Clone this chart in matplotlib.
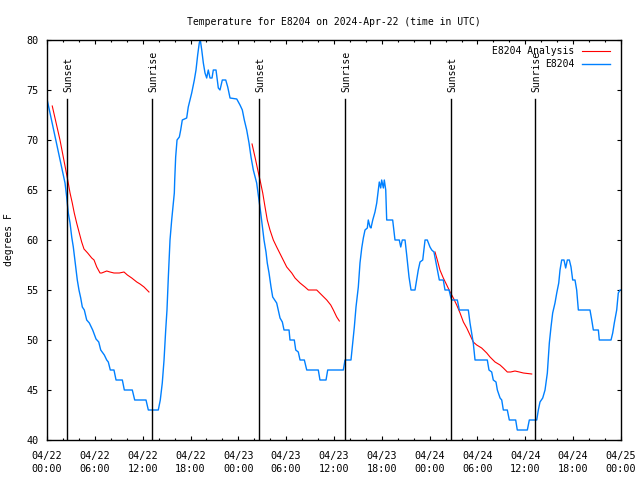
#grafico de temperatura E8204 (estilo gnuplot)
import matplotlib
matplotlib.use("Agg")
import matplotlib.pyplot as plt

# horas desde 2024-04-22 00:00 UTC
obs_h = [0.0, 2.26, 2.47, 2.67, 2.89, 3.10, 3.30, 3.42, 3.60, 3.80, 4.01, 4.23, 4.43, 4.68, 4.98,
         5.31, 5.73, 6.15, 6.49, 6.74, 7.19, 7.49, 7.69, 7.94, 8.40, 8.66, 9.45, 9.70, 10.70, 11.00,
         12.42, 12.71, 13.96, 14.21, 14.46, 14.68, 14.89, 15.05, 15.22, 15.43, 15.64, 15.84, 15.97,
         16.02, 16.14, 16.31, 16.60, 16.77, 16.97, 17.52, 17.72, 18.15, 18.48, 18.69, 18.90, 19.10,
         19.23, 19.41, 19.61, 19.82, 20.03, 20.23, 20.45, 20.70, 20.86, 21.20, 21.49, 21.70, 21.99,
         22.42, 22.67, 22.96, 23.80, 24.21, 24.50, 24.75, 25.05, 25.34, 25.59, 25.88, 26.30, 26.59,
         26.81, 27.06, 27.22, 27.47, 27.63, 27.85, 28.10, 28.31, 28.56, 28.81, 29.01, 29.23, 29.52,
         29.73, 30.36, 30.48, 31.02, 31.20, 31.52, 31.74, 32.28, 32.58, 34.03, 34.24, 35.00, 35.21,
         37.17, 37.38, 38.13, 38.35, 38.55, 38.76, 39.05, 39.26, 39.48, 39.68, 39.89, 40.18, 40.30,
         40.52, 40.64, 40.86, 41.14, 41.36, 41.56, 41.68, 41.86, 41.98, 42.19, 42.31, 42.49, 42.61,
         43.36, 43.65, 44.19, 44.37, 44.57, 44.91, 45.12, 45.41, 45.66, 46.16, 46.37, 46.57, 46.79,
         47.13, 47.42, 47.70, 48.04, 48.26, 48.54, 48.80, 48.96, 49.21, 49.71, 49.92, 50.43, 50.64,
         50.76, 51.47, 51.72, 52.85, 53.06, 53.27, 53.47, 53.69, 55.23, 55.44, 55.78, 55.98, 56.32,
         56.49, 56.83, 57.04, 57.24, 57.74, 57.99, 58.79, 58.99, 60.25, 60.50, 61.43, 61.63, 61.84,
         62.18, 62.47, 62.76, 63.01, 63.22, 63.43, 63.72, 63.94, 64.19, 64.35, 64.56, 64.85, 65.06,
         65.27, 65.52, 65.73, 65.94, 66.23, 66.44, 66.65, 68.11, 68.33, 68.53, 69.16, 69.28, 70.75,
         70.96, 71.16, 71.46, 71.66, 71.88, 72.0]
obs_t = [74.1, 65.7, 64.3, 62.7, 61.7, 60.3, 59.3, 58.5, 57.3, 56.0, 55.0, 54.2, 53.3, 53.0, 52.0,
         51.7, 51.0, 50.1, 49.8, 49.0, 48.5, 48.0, 47.8, 47.0, 47.0, 46.0, 46.0, 45.0, 45.0, 44.0,
         44.0, 43.0, 43.0, 44.0, 45.7, 48.0, 51.0, 53.0, 56.3, 60.0, 62.0, 63.7, 64.7,
         66.0, 68.3, 70.0, 70.3, 71.0, 72.0, 72.2, 73.3, 74.7, 76.0, 77.0, 78.5, 79.7,
         80.0, 79.0, 77.7, 76.7, 76.2, 77.0, 76.2, 76.2, 77.0, 77.0, 75.2, 75.0, 76.0,
         76.0, 75.3, 74.2, 74.1, 73.5, 73.0, 72.0, 71.0, 69.7, 68.3, 67.0, 65.7, 64.0,
         62.7, 61.0, 60.0, 58.8, 57.7, 56.7, 55.3, 54.3, 54.0, 53.7, 53.0, 52.2, 51.8,
         51.0, 51.0, 50.0, 50.0, 49.0, 48.8, 48.0, 48.0, 47.0, 47.0, 46.0, 46.0, 47.0,
         47.0, 48.0, 48.0, 49.7, 51.3, 53.3, 55.3, 57.7, 59.2, 60.2, 61.0, 61.2, 62.0,
         61.3, 61.2, 62.0, 62.8, 63.7, 65.0, 65.8, 65.2, 66.0, 65.2, 66.0, 65.0, 62.0,
         62.0, 60.0, 60.0, 59.3, 60.0, 60.0, 58.5, 56.3, 55.0, 55.0, 56.0, 57.0, 57.8,
         58.0, 60.0, 60.0, 59.3, 59.0, 58.8, 57.7, 57.0, 56.0, 56.0, 55.0, 55.0, 54.3,
         54.0, 54.0, 53.0, 53.0, 51.7, 50.7, 49.7, 48.0, 48.0, 47.0, 46.8, 46.0, 45.8,
         45.0, 44.2, 44.0, 43.0, 43.0, 42.0, 42.0, 41.0, 41.0, 42.0, 42.0, 43.0, 43.8,
         44.2, 45.0, 46.7, 49.7, 51.3, 52.7, 53.7, 54.7, 55.7, 57.0, 58.0, 58.0, 57.2,
         58.0, 58.0, 57.3, 56.0, 56.0, 55.0, 53.0, 53.0, 52.0, 51.0, 51.0, 50.0, 50.0,
         50.7, 51.7, 53.0, 54.7, 55.0, 55.0]

# analise (3 trechos)
an1_h = [0.66, 1.63, 2.60, 2.89, 3.17, 3.42, 3.72, 4.05, 4.35, 4.64, 5.10, 5.61, 5.90, 6.24, 6.65,
         6.86, 7.49, 7.90, 8.40, 9.07, 9.66, 10.08, 10.63, 11.26, 11.67, 12.17, 12.79]
an1_t = [73.4, 70.0, 66.0, 64.7, 63.7, 62.7, 61.7, 60.7, 59.8, 59.1, 58.7, 58.2, 58.0, 57.3, 56.7,
         56.7, 56.9, 56.8, 56.7, 56.7, 56.8, 56.5, 56.2, 55.8, 55.6, 55.3, 54.8]
an2_h = [25.72, 26.09, 26.63, 26.72, 27.06, 27.35, 27.63, 27.97, 28.39, 28.81, 29.44, 30.07, 30.70,
         31.11, 31.74, 32.36, 32.78, 33.83, 34.46, 35.09, 35.59, 35.92, 36.34, 36.67]
an2_t = [69.6, 68.3, 66.3, 66.0, 64.7, 63.3, 62.0, 61.0, 60.0, 59.3, 58.3, 57.3, 56.7,
         56.2, 55.7, 55.3, 55.0, 55.0, 54.5, 54.0, 53.5, 53.0, 52.3, 51.9]
an3_h = [48.67, 48.96, 49.29, 49.71, 50.14, 50.56, 50.97, 51.39, 51.81, 52.23, 52.65, 53.06, 53.47,
         53.90, 54.52, 55.16, 55.57, 56.20, 56.83, 57.24, 57.74, 58.16, 58.70, 59.25, 59.75, 60.80]
an3_t = [58.8, 58.0, 57.0, 56.2, 55.5, 54.8, 54.2, 53.5, 52.7, 51.8, 51.2, 50.5, 49.8,
         49.5, 49.2, 48.7, 48.3, 47.8, 47.5, 47.2, 46.8, 46.8, 46.9, 46.8, 46.7, 46.6]

sol_h = [2.53, 13.19, 26.61, 37.34, 50.70, 61.23]
sol_txt = ["Sunset", "Sunrise", "Sunset", "Sunrise", "Sunset", "Sunrise"]

xticks = [0, 6, 12, 18, 24, 30, 36, 42, 48, 54, 60, 66, 72]
xlabels = ["04/22\n00:00", "04/22\n06:00", "04/22\n12:00", "04/22\n18:00",
           "04/23\n00:00", "04/23\n06:00", "04/23\n12:00", "04/23\n18:00",
           "04/24\n00:00", "04/24\n06:00", "04/24\n12:00", "04/24\n18:00", "04/25\n00:00"]

plt.rcParams["font.family"] = ["DejaVu Sans Mono"]
plt.rcParams["font.size"] = 7

fig = plt.figure(figsize=(6.4, 4.8), dpi=100)
ax = fig.add_axes([47/640, 40/480, 574/640, 400/480])

vermelho = "#ff0000"
azul = "#0080ff"

ax.plot(an1_h, an1_t, color=vermelho, lw=0.8, label="E8204 Analysis")
ax.plot(an2_h, an2_t, color=vermelho, lw=0.8)
ax.plot(an3_h, an3_t, color=vermelho, lw=0.8)
ax.plot(obs_h, obs_t, color=azul, lw=1.0, label="E8204")

for h, txt in zip(sol_h, sol_txt):
    ax.plot([h, h], [40, 74.1], color="k", lw=1.0)
    ax.text(h + 0.2, 74.8, txt, rotation=90, ha="center", va="bottom")

ax.set_xlim(0, 72)
ax.set_ylim(40, 80)
ax.set_xticks(xticks)
ax.set_xticklabels(xlabels, fontsize=7.3, linespacing=1.3)
ax.set_xticks(range(0, 73, 2), minor=True)
ax.set_yticks(range(40, 81, 5))
ax.tick_params(which="both", direction="in", top=True, right=True, width=0.8)
ax.tick_params(which="major", length=3)
ax.tick_params(which="minor", length=1.5)
ax.tick_params(axis="x", which="major", pad=8)
ax.tick_params(axis="y", which="major", pad=6, labelsize=7.3)
for s in ax.spines.values():
    s.set_linewidth(1.0)

ax.set_ylabel("degrees F")
ax.yaxis.set_label_coords(-0.057, 0.5)
ax.set_title("Temperature for E8204 on 2024-Apr-22 (time in UTC)", fontsize=7, pad=11)

ax.legend(loc="upper right", frameon=False, markerfirst=False, borderpad=0,
          borderaxespad=0, bbox_to_anchor=(0.981, 0.985), handlelength=2.9,
          handletextpad=0.8, labelspacing=0.35)

plt.savefig("out.png", dpi=100)
